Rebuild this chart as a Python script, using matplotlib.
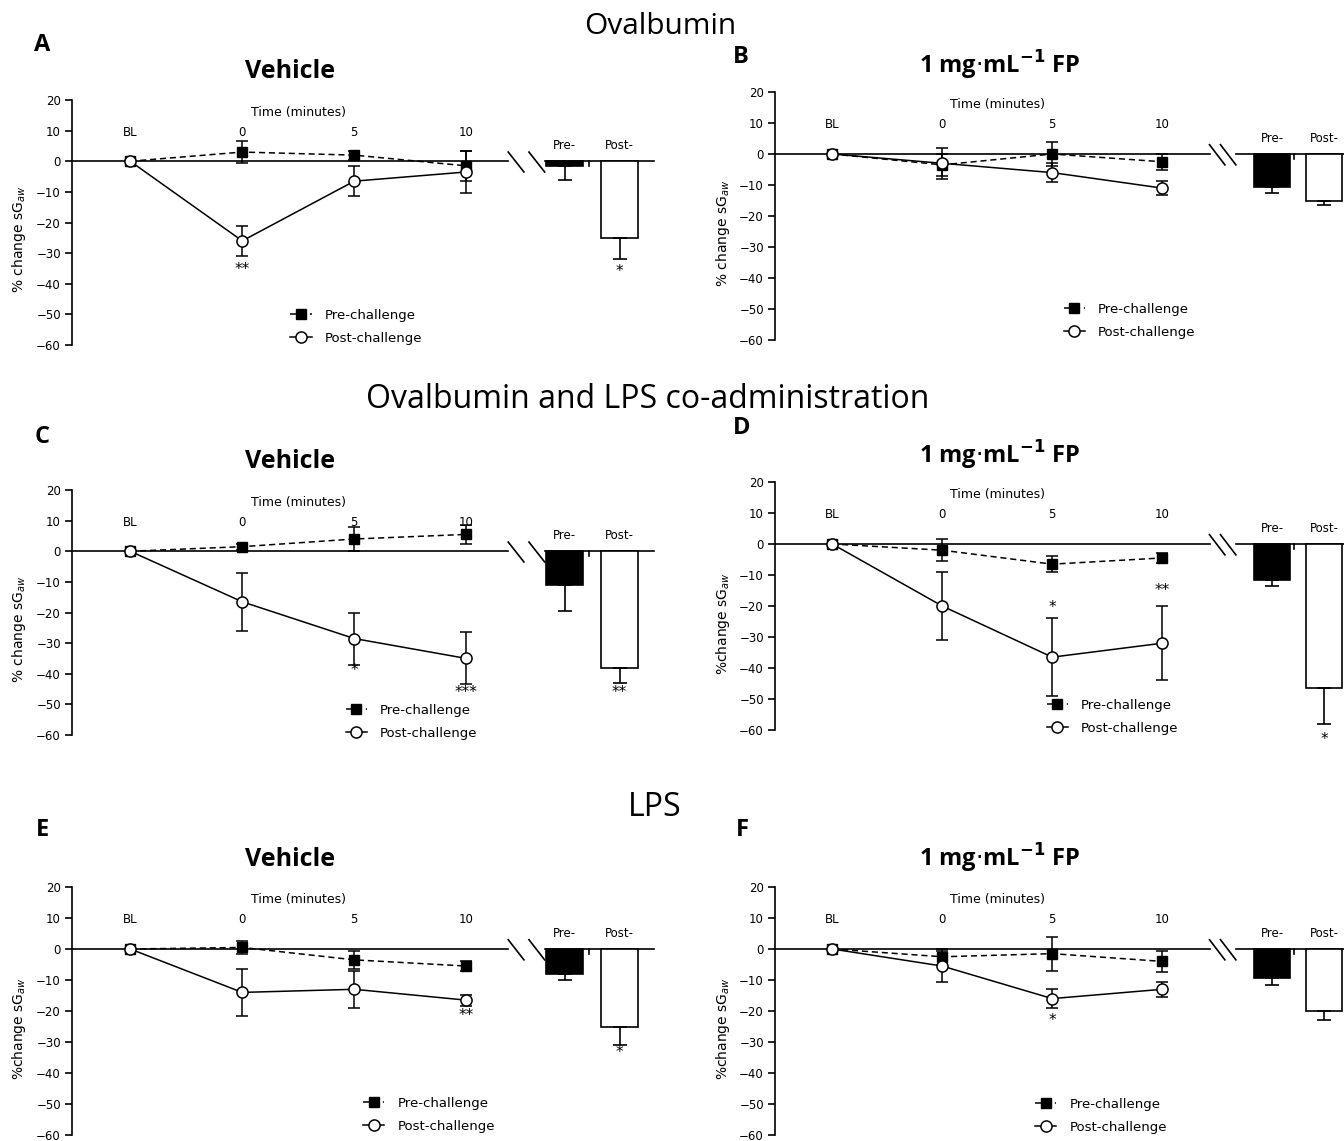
import numpy as np
import matplotlib.pyplot as plt

plt.rcParams['font.family'] = ['Open Sans', 'DejaVu Sans']

# time points on the line plots
time_labels = ['BL', '0', '5', '10']
bar_labels = ['Pre-', 'Post-']

# values (% change sGaw), error = SEM
A_pre = [0, 3, 2, -1.5]
A_pre_err = [0, 3.5, 1.5, 5]
A_post = [0, -26, -6.5, -3.5]
A_post_err = [0, 5, 5, 7]
A_bars = [-1.5, -25]
A_bars_err = [4.5, 7]
A_stars = [('**', 1, -35.5), ('*', 5, -36)]

B_pre = [0, -3.5, 0, -2.5]
B_pre_err = [0, 3.5, 4, 2.5]
B_post = [0, -3, -6, -11]
B_post_err = [0, 5, 3, 2.2]
B_bars = [-10.5, -15]
B_bars_err = [2, 1.5]
B_stars = []

C_pre = [0, 1.5, 4, 5.5]
C_pre_err = [0, 1, 4, 3]
C_post = [0, -16.5, -28.5, -35]
C_post_err = [0, 9.5, 8.5, 8.5]
C_bars = [-11, -38]
C_bars_err = [8.5, 5]
C_stars = [('*', 2, -39), ('***', 3, -46), ('**', 5, -46)]

D_pre = [0, -2, -6.5, -4.5]
D_pre_err = [0, 3.5, 2.5, 1.5]
D_post = [0, -20, -36.5, -32]
D_post_err = [0, 11, 12.5, 12]
D_bars = [-11.5, -46.5]
D_bars_err = [2, 11.5]
D_stars = [('*', 2, -20.5), ('**', 3, -15), ('*', 5, -63)]

E_pre = [0, 0.5, -3.5, -5.5]
E_pre_err = [0, 2, 3, 1.5]
E_post = [0, -14, -13, -16.5]
E_post_err = [0, 7.5, 6, 1.8]
E_bars = [-8, -25]
E_bars_err = [2, 6]
E_stars = [('**', 3, -21.5), ('*', 5, -33.5)]

F_pre = [0, -2.5, -1.5, -4]
F_pre_err = [0, 2.5, 5.5, 3.5]
F_post = [0, -5.5, -16, -13]
F_post_err = [0, 5, 3, 2.5]
F_bars = [-9.5, -20]
F_bars_err = [2, 3]
F_stars = [('*', 2, -23)]

fp_title = '1 mg$\\cdot$mL$^{\\mathbf{-1}}$ FP'
panels = [
    ('A', 'Vehicle', '% change sG$_{aw}$', A_pre, A_pre_err, A_post, A_post_err, A_bars, A_bars_err, A_stars),
    ('B', fp_title, '% change sG$_{aw}$', B_pre, B_pre_err, B_post, B_post_err, B_bars, B_bars_err, B_stars),
    ('C', 'Vehicle', '% change sG$_{aw}$', C_pre, C_pre_err, C_post, C_post_err, C_bars, C_bars_err, C_stars),
    ('D', fp_title, '%change sG$_{aw}$', D_pre, D_pre_err, D_post, D_post_err, D_bars, D_bars_err, D_stars),
    ('E', 'Vehicle', '%change sG$_{aw}$', E_pre, E_pre_err, E_post, E_post_err, E_bars, E_bars_err, E_stars),
    ('F', fp_title, '%change sG$_{aw}$', F_pre, F_pre_err, F_post, F_post_err, F_bars, F_bars_err, F_stars),
]

W, H = 1344, 1141
fig = plt.figure(figsize=(W / 100, H / 100), dpi=100)

# pixel boxes: (left px of y axis, top px (y=20), bottom px (y=-60), px per x unit)
boxes = [(72, 100, 345, 112), (775, 92, 340, 110),
         (72, 490, 735, 112), (775, 482, 730, 110),
         (72, 887, 1135, 112), (775, 887, 1135, 110)]
# legend lower-left in axes fraction
leg_pos = [(0.375, 0.0), (0.505, 0.005), (0.47, -0.02), (0.475, -0.02), (0.5, 0.01), (0.455, 0.005)]
# letter, title pixel centres
letter_xy = [(42, 45), (741, 57), (42, 437), (742, 428), (42, 830), (742, 830)]
title_xy = [(290, 72), (1000, 65), (290, 462), (1000, 455), (290, 860), (1000, 858)]

small = 'DejaVu Sans'
xl = -0.52
for i, (letter, title, ylab, pre, pre_err, post, post_err, bars, bars_err, stars) in enumerate(panels):
    left_px, top_px, bot_px, ppu = boxes[i]
    right_col = i % 2 == 1
    width_px = 5.2 * ppu
    ax = fig.add_axes([left_px / W, 1 - bot_px / H, width_px / W, (bot_px - top_px) / H])
    ax.set_xlim(xl, xl + 5.2)
    ax.set_ylim(-60, 20)
    ax.patch.set_alpha(0)
    for s in ['top', 'right', 'bottom']:
        ax.spines[s].set_visible(False)
    ax.spines['left'].set_linewidth(1.2)
    ax.set_xticks([])
    ax.set_yticks(np.arange(-60, 21, 10))
    ax.tick_params(axis='y', direction='out', length=5, width=1.2, labelsize=8.5, pad=3)
    for t in ax.get_yticklabels():
        t.set_family(small)
    ax.set_ylabel(ylab, fontsize=10, family=small)
    ax.yaxis.set_label_coords(-0.075, 0.43)

    if right_col:
        brk0, brk1, pre_x, post_x, tick_x = 3.43, 3.67, 4.0, 4.47, 4.2
    else:
        brk0, brk1, pre_x, post_x, tick_x = 3.375, 3.7, 3.88, 4.37, 4.1

    # zero line with axis break
    ax.plot([xl, brk0], [0, 0], color='black', lw=1.2, zorder=1)
    ax.plot([brk1, xl + 5.2], [0, 0], color='black', lw=1.2, zorder=1, clip_on=False)
    ax.plot([brk0, brk0 + 0.14], [3, -3.5], color='black', lw=1.2)
    ax.plot([brk1 - 0.14, brk1], [3, -3.5], color='black', lw=1.2)
    ax.plot([tick_x, tick_x], [0, -1.5], color='black', lw=1.2)

    xs = np.arange(len(time_labels))
    # error bars
    ax.errorbar(xs[1:], pre[1:], yerr=pre_err[1:], fmt='none', ecolor='black',
                elinewidth=1.1, capsize=4, capthick=1.1, zorder=2)
    ax.errorbar(xs[1:], post[1:], yerr=post_err[1:], fmt='none', ecolor='black',
                elinewidth=1.1, capsize=4, capthick=1.1, zorder=2)
    ax.plot(xs, pre, ls=(0, (4, 2.5)), color='black', lw=1.1, marker='s', ms=7,
            mfc='black', mec='black', label='Pre-challenge', zorder=3)
    ax.plot(xs, post, ls='-', color='black', lw=1.1, marker='o', ms=8,
            mfc='white', mec='black', mew=1.1, label='Post-challenge', zorder=4)

    # summary bars (error only on the negative side)
    bx = [pre_x, post_x]
    ax.bar(bx, bars, width=0.33, color=['black', 'white'], edgecolor='black', lw=1.2, zorder=2)
    ax.errorbar(bx, bars, yerr=[list(bars_err), [0, 0]], fmt='none', ecolor='black',
                elinewidth=1.2, capsize=5, capthick=1.2, zorder=2, clip_on=False)

    for xi, lab in zip(xs, time_labels):
        ax.text(xi, 9.5, lab, ha='center', va='center', fontsize=8.5, family=small)
    ax.text(1.5, 16, 'Time (minutes)', ha='center', va='center', fontsize=9, family=small)
    for xi, lab in zip(bx, bar_labels):
        ax.text(xi, 5, lab, ha='center', va='center', fontsize=8.5, family=small)

    for txt, idx, yy in stars:
        sx = idx if idx < 4 else bx[idx - 4]
        ax.text(sx, yy, txt, ha='center', va='center', fontsize=11, family=small, clip_on=False)

    ax.legend(loc='lower left', bbox_to_anchor=leg_pos[i], frameon=False,
              handlelength=1.6, handletextpad=1.0, labelspacing=0.75, borderpad=0,
              borderaxespad=0, prop={'family': small, 'size': 9.5})

    fig.text(letter_xy[i][0] / W, 1 - letter_xy[i][1] / H, letter, fontsize=17,
             fontweight='bold', ha='center', va='center')
    fig.text(title_xy[i][0] / W, 1 - title_xy[i][1] / H, title,
             fontsize=18 if title == 'Vehicle' else 17,
             fontweight='bold', ha='center', va='center')

fig.text(660 / W, 1 - 27 / H, 'Ovalbumin', fontsize=21.5, ha='center', va='center')
fig.text(648 / W, 1 - 400 / H, 'Ovalbumin and LPS co-administration', fontsize=23, ha='center', va='center')
fig.text(655 / W, 1 - 808 / H, 'LPS', fontsize=23, ha='center', va='center')

fig.savefig('out.png', dpi=100)
